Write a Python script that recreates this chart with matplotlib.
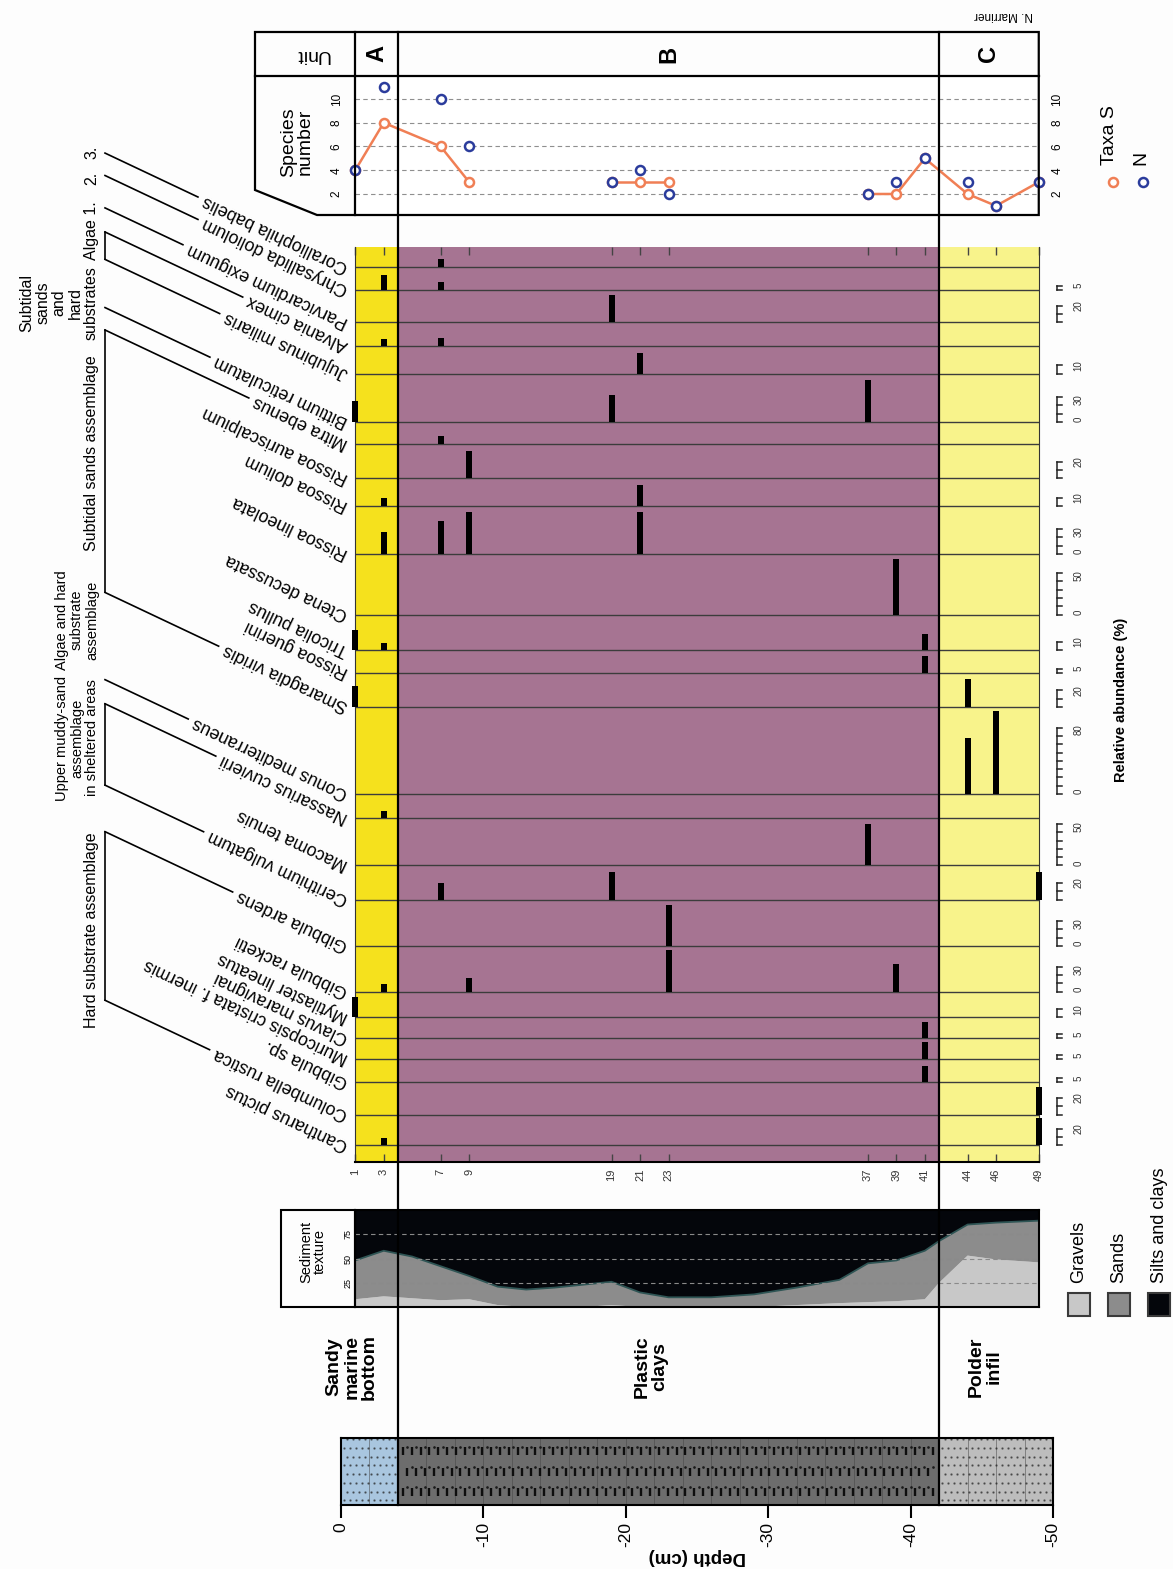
import numpy as np
import matplotlib
matplotlib.use("Agg")
import matplotlib.pyplot as plt
from matplotlib.font_manager import FontProperties
from matplotlib.transforms import blended_transform_factory
from matplotlib.patches import Rectangle, Polygon

plt.rcParams['font.family'] = ['Liberation Sans', 'DejaVu Sans']

W, H, DPI = 1173, 1569, 100
# page position of the depth scale: 0 cm -> x=341 px, -50 cm -> x=1053 px
X0, X50 = 341, 1053

# ---------------- data ----------------
unit_labels = ['A', 'B', 'C']
unit_top = [0, 4, 42]
unit_base = [4, 42, 50]
unit_facies = ['Sandy\nmarine\nbottom', 'Plastic\nclays', 'Polder\ninfil']
unit_fill = ['#f5e11d', '#a67492', '#f8f38b']
litho_fill = ['#a9c6df', '#6d6d6d', '#bdbdbd']

depth_ticks = [0, -10, -20, -30, -40, -50]

samples = [1, 3, 7, 9, 19, 21, 23, 37, 39, 41, 44, 46, 49]
taxa_s = [4, 8, 6, 3, 3, 3, 3, 2, 2, 5, 2, 1, 3]
n_ind = [4, 11, 10, 6, 3, 4, 2, 2, 3, 5, 3, 1, 3]
taxa_breaks = [4, 7]          # orange line is interrupted after these indices

tex_depth = [1, 3, 5, 7, 9, 11, 13, 15, 17, 19, 21, 23, 26, 29, 32, 35, 37, 39, 41, 42, 44, 46, 49]
gravels = [8, 11, 9, 7, 8, 2, 0, 0, 0, 2, 0, 0, 0, 0, 2, 4, 5, 6, 8, 25, 53, 49, 46]
sands = [40, 47, 43, 35, 24, 19, 18, 20, 23, 24, 15, 10, 10, 13, 18, 24, 40, 42, 50, 43, 32, 38, 43]
silts = [52, 42, 48, 58, 68, 79, 82, 80, 77, 74, 85, 90, 90, 87, 80, 72, 55, 52, 42, 32, 15, 13, 11]

species = ['Coralliophila babelis', 'Chrysallida doliolum', 'Parvicardium exiguum',
           'Alvania cimex', 'Jujubinus miliaris', 'Bittium reticulatum', 'Mitra ebenus',
           'Rissoa auriscalpium', 'Rissoa dolium', 'Rissoa lineolata', 'Ctena decussata',
           'Tricolia pullus', 'Rissoa guerini', 'Smaragdia viridis', 'Conus mediterraneus',
           'Nassarius cuvierii', 'Macoma tenuis', 'Cerithium vulgatum', 'Gibbula ardens',
           'Gibbula racketii', 'Mytilaster lineatus', 'Clavus maravignai',
           'Muricopsis cristata f. inermis', 'Gibbula sp.', 'Columbella rustica',
           'Cantharus pictus']
# width of each species column (in % units)
row_width = [25, 27, 39, 29, 33, 58, 27, 41, 33, 58, 73, 43, 27, 41, 105, 29, 57, 41,
             56, 55, 31, 25, 25, 28, 39, 37]
bottom_pad = 20
# scale bar shown for each species (0 = none)
scale_max = [0, 5, 20, 0, 10, 30, 0, 20, 10, 30, 50, 10, 5, 20, 80, 0, 50, 20, 30, 30,
             10, 5, 5, 5, 20, 20]
# relative abundance (%) per species, columns = samples
abundance = [
    [0, 0, 10, 0, 0, 0, 0, 0, 0, 0, 0, 0, 0],
    [0, 18, 10, 0, 0, 0, 0, 0, 0, 0, 0, 0, 0],
    [0, 0, 0, 0, 33, 0, 0, 0, 0, 0, 0, 0, 0],
    [0, 9, 10, 0, 0, 0, 0, 0, 0, 0, 0, 0, 0],
    [0, 0, 0, 0, 0, 25, 0, 0, 0, 0, 0, 0, 0],
    [25, 0, 0, 0, 33, 0, 0, 50, 0, 0, 0, 0, 0],
    [0, 0, 10, 0, 0, 0, 0, 0, 0, 0, 0, 0, 0],
    [0, 0, 0, 33, 0, 0, 0, 0, 0, 0, 0, 0, 0],
    [0, 9, 0, 0, 0, 25, 0, 0, 0, 0, 0, 0, 0],
    [0, 27, 40, 50, 0, 50, 0, 0, 0, 0, 0, 0, 0],
    [0, 0, 0, 0, 0, 0, 0, 0, 67, 0, 0, 0, 0],
    [25, 9, 0, 0, 0, 0, 0, 0, 0, 20, 0, 0, 0],
    [0, 0, 0, 0, 0, 0, 0, 0, 0, 20, 0, 0, 0],
    [25, 0, 0, 0, 0, 0, 0, 0, 0, 0, 33, 0, 0],
    [0, 0, 0, 0, 0, 0, 0, 0, 0, 0, 67, 100, 0],
    [0, 9, 0, 0, 0, 0, 0, 0, 0, 0, 0, 0, 0],
    [0, 0, 0, 0, 0, 0, 0, 50, 0, 0, 0, 0, 0],
    [0, 0, 20, 0, 33, 0, 0, 0, 0, 0, 0, 0, 33],
    [0, 0, 0, 0, 0, 0, 50, 0, 0, 0, 0, 0, 0],
    [0, 9, 0, 17, 0, 0, 50, 0, 33, 0, 0, 0, 0],
    [25, 0, 0, 0, 0, 0, 0, 0, 0, 0, 0, 0, 0],
    [0, 0, 0, 0, 0, 0, 0, 0, 0, 20, 0, 0, 0],
    [0, 0, 0, 0, 0, 0, 0, 0, 0, 20, 0, 0, 0],
    [0, 0, 0, 0, 0, 0, 0, 0, 0, 20, 0, 0, 0],
    [0, 0, 0, 0, 0, 0, 0, 0, 0, 0, 0, 0, 33],
    [0, 9, 0, 0, 0, 0, 0, 0, 0, 0, 0, 0, 33],
]

# assemblage groups: first / last species index joined by a bracket
group_first = [0, 1, 2, 3, 5, 6, 14, 15, 18]
group_last = [0, 1, 2, 4, 5, 13, 14, 17, 24]
group_text = ['3.', '2.', 'Algae 1.', 'Subtidal\nsands\nand\nhard\nsubstrates',
              'Subtidal sands assemblage', 'Algae and hard\nsubstrate\nassemblage',
              'Upper muddy-sand\nassemblage\nin sheltered areas', 'Hard substrate assemblage']
group_text_y = [152, 178, 231, 303, 453, 620, 738, 930]
group_text_size = [11.5, 11.5, 11.5, 11.5, 11.5, 10.5, 10.5, 11.5]

ORANGE = '#f07f55'
BLUE = '#2b3c9c'


def depth_px(d):
    return X0 + (X50 - X0) * d / 50.0


fig = plt.figure(figsize=(W / DPI, H / DPI), dpi=DPI, facecolor='#fdfdfd')


def px_axes(x0, y0, x1, y1):
    return fig.add_axes([x0 / W, 1 - y1 / H, (x1 - x0) / W, (y1 - y0) / H])


# ---------------- lithology ----------------
LITH_TOP, LITH_BOT = 1438, 1505
ax_l = px_axes(X0, LITH_TOP, X50, LITH_BOT)
ax_l.set_xlim(0, -50)
ax_l.set_ylim(0, 1)
for top, base, c in zip(unit_top, unit_base, litho_fill):
    ax_l.axvspan(-top, -base, color=c, lw=0)
ax_l.vlines(-np.arange(2, 50, 2), 0, 1, color='#444444', lw=0.5, alpha=0.7)
for top, base in [(unit_top[0], unit_base[0]), (unit_top[2], unit_base[2])]:
    gx, gy = np.meshgrid(np.arange(top + 0.2, base - 0.1, 0.42), np.arange(0.07, 1, 0.13))
    gx = gx + (np.arange(gy.shape[0])[:, None] % 2) * 0.2
    ax_l.plot(-gx.ravel(), gy.ravel(), ls='none', marker='.', ms=1.4, color='#222', alpha=0.6)
cx = np.arange(4.35, 41.6, 0.62)
for j, yy in enumerate([0.2, 0.5, 0.8]):
    xs = cx + 0.31 * (j % 2)
    xs = xs[xs < 41.7]
    ax_l.plot(-xs, np.full(xs.shape, yy), ls='none', marker='|', ms=5.5, mew=1.7, color='#0d0d0d')
    xd = xs[xs < 41.4] + 0.31
    ax_l.plot(-xd, np.full(xd.shape, yy + 0.07), ls='none', marker='.', ms=1.8, color='#1a1a1a')
ax_l.set_xticks(depth_ticks)
ax_l.set_xticklabels([str(t) for t in depth_ticks], rotation=90, fontsize=12.5)
ax_l.tick_params(axis='x', length=9, width=1.5)
ax_l.set_yticks([])
for s in ax_l.spines.values():
    s.set_linewidth(1.5)

# ---------------- sediment texture ----------------
TEX_TOP, TEX_BOT = 1210, 1307
ax_t = px_axes(depth_px(1), TEX_TOP, depth_px(49), TEX_BOT)
ax_t.stackplot(tex_depth, gravels, sands, silts, colors=['#c8c8c8', '#8c8c8c', '#04060b'], lw=0)
cum = [g + s for g, s in zip(gravels, sands)]
ax_t.plot(tex_depth, cum, color='#2f5555', lw=1.3)
for v in (25, 50, 75):
    ax_t.axhline(v, color='#8a8a8a', lw=0.8, ls=(0, (4, 3)))
ax_t.set_xlim(1, 49)
ax_t.set_ylim(0, 100)
ax_t.set_xticks([])
ax_t.set_yticks([25, 50, 75])
ax_t.set_yticklabels(['25', '50', '75'], rotation=90, va='center', fontsize=6.5)
ax_t.tick_params(axis='y', length=0, pad=2)
for s in ax_t.spines.values():
    s.set_linewidth(1.5)

# ---------------- relative abundance ----------------
total = sum(row_width) + bottom_pad
ax_a = px_axes(depth_px(1), 246.7, depth_px(49), 1162)
ax_a.set_xlim(1, 49)
ax_a.set_ylim(total, 0)
for top, base, c in zip(unit_top, unit_base, unit_fill):
    ax_a.axvspan(top, base, color=c, lw=0)
bases = np.cumsum(row_width)
ax_a.hlines(bases, 1, 49, color='#3c3c3c', lw=1)
for b, vals in zip(bases, abundance):
    v = np.array(vals, dtype=float)
    keep = v > 0
    ax_a.bar(np.array(samples)[keep], v[keep], bottom=b - v[keep], width=0.42,
             color='black', clip_on=False, zorder=3)
# little scale bars on the right of each column
for b, m in zip(bases, scale_max):
    if m == 0:
        continue
    steps = [0, 5] if m == 5 else list(range(0, m + 1, 10))
    ax_a.plot([50.28, 50.28], [b, b - m], color='#222', lw=1.1, clip_on=False)
    for s in steps:
        ax_a.plot([50.28, 50.65], [b - s, b - s], color='#222', lw=1.1, clip_on=False)
    if m <= 20:
        ax_a.text(51.8, b - m, str(m), rotation=90, ha='center', va='center',
                  fontsize=7, color='#333')
    else:
        ax_a.text(51.8, b - 3, '0', rotation=90, ha='center', va='center', fontsize=7, color='#333')
        ax_a.text(51.8, b - m + 3, str(m), rotation=90, ha='center', va='center',
                  fontsize=7, color='#333')
ax_a.set_xticks(samples)
ax_a.set_xticklabels([str(s) for s in samples], rotation=90, fontsize=8, color='#333')
ax_a.tick_params(axis='x', direction='in', length=6, width=1, top=True, color='#444', pad=5)
ax_a.set_yticks([])
ax_a.spines['top'].set_visible(False)
ax_a.spines['bottom'].set_linewidth(1.5)
for k in ('left', 'right'):
    ax_a.spines[k].set_linewidth(0.8)
    ax_a.spines[k].set_color('#333')

# ---------------- species number ----------------
ax_s = px_axes(depth_px(1), 75.7, depth_px(49), 215)
ax_s.set_xlim(1, 49)
ax_s.set_ylim(0.23, 11.96)
for v in (2, 4, 6, 8, 10):
    ax_s.axhline(v, color='#8f8f8f', lw=0.8, ls=(0, (4, 3)))
cuts = [0] + taxa_breaks + [len(samples)]
for a, b in zip(cuts[:-1], cuts[1:]):
    ax_s.plot(samples[a:b], taxa_s[a:b], color=ORANGE, lw=1.8, zorder=3)
ax_s.plot(samples, taxa_s, ls='none', marker='o', ms=6.5, mew=1.8, mfc='white',
          mec=ORANGE, clip_on=False, zorder=4)
ax_s.plot(samples, n_ind, ls='none', marker='o', ms=6.5, mew=1.8, mfc='white',
          mec=BLUE, clip_on=False, zorder=5)
ax_s.set_xticks([])
ax_s.set_yticks([2, 4, 6, 8, 10])
ax_s.set_yticklabels(['2', '4', '6', '8', '10'], rotation=90, va='center', fontsize=8.5)
ax_s.tick_params(axis='y', length=0, pad=9, labelleft=True, labelright=True)
for s in ax_s.spines.values():
    s.set_visible(False)

# ---------------- overlay (frames, labels, annotations) ----------------
ov = fig.add_axes([0, 0, 1, 1])
ov.set_xlim(0, W)
ov.set_ylim(H, 0)
ov.axis('off')
ov.set_zorder(10)

xl, xr = depth_px(1), depth_px(49)
ov.add_patch(Polygon([(255, 32), (xr, 32), (xr, 215), (317, 215), (255, 190)],
                     closed=True, fill=False, lw=1.6, ec='black'))
ov.plot([255, xr], [75.7, 75.7], color='black', lw=1.6)
ov.plot([xl, xl], [32, 215], color='black', lw=1.6)
ov.text(312, 54, 'Unit', rotation=180, ha='center', va='center', fontsize=14)
ov.text(297, 142, 'Species\nnumber', rotation=90, ha='center', va='center', fontsize=14,
        linespacing=1.0)
tr_s = blended_transform_factory(ax_s.transData, ov.transData)
unit_mid = [(max(t, 1) + min(b, 49)) / 2 for t, b in zip(unit_top, unit_base)]
for m, lab in zip(unit_mid, unit_labels):
    ov.text(m, 54, lab, transform=tr_s, rotation=90, ha='center', va='center',
            fontsize=17, fontweight='bold')
ov.text(1004, 15, 'N. Marriner', rotation=180, ha='center', va='center', fontsize=8.5)

# species-number legend
ov.plot([1113], [182], ls='none', marker='o', ms=6.5, mew=1.8, mfc='white', mec=ORANGE)
ov.plot([1143], [182], ls='none', marker='o', ms=6.5, mew=1.8, mfc='white', mec=BLUE)
ov.text(1110, 165, 'Taxa S', rotation=90, rotation_mode='anchor', ha='left', va='center',
        fontsize=14)
ov.text(1141, 165, 'N', rotation=90, rotation_mode='anchor', ha='left', va='center',
        fontsize=14)

# texture label box and legend
ov.add_patch(Rectangle((281, TEX_TOP), xl - 281, TEX_BOT - TEX_TOP, fill=False, lw=1.5,
                       ec='black'))
ov.text(313, TEX_TOP + 42, 'Sediment\ntexture', rotation=90, ha='center', va='center',
        fontsize=10.5, linespacing=1.0)
for x0, c, lab in zip([1068, 1108, 1148], ['#c8c8c8', '#8c8c8c', '#04060b'],
                      ['Gravels', 'Sands', 'Silts and clays']):
    ov.add_patch(Rectangle((x0, 1293), 22, 23, fc=c, ec='#3a3a3a', lw=1.5))
    ov.text(x0 + 11, 1283, lab, rotation=90, rotation_mode='anchor', ha='left',
            va='center', fontsize=13)

# facies names, depth title, abundance title
for x, lab in zip([352, 651, 985], unit_facies):
    ov.text(x, 1367, lab, rotation=90, ha='center', va='center', fontsize=14,
            fontweight='bold', linespacing=1.05)
ov.text(697, 1557, 'Depth (cm)', rotation=180, ha='center', va='center', fontsize=13.5,
        fontweight='bold')
ov.text(1121, 700, 'Relative abundance (%)', rotation=90, ha='center', va='center',
        fontsize=10.5, fontweight='bold')

# unit boundaries running through the whole log
tr_l = blended_transform_factory(ax_l.transData, ov.transData)
for b in unit_base[:-1]:
    ov.plot([-b, -b], [32, LITH_BOT], transform=tr_l, color='black', lw=1.6, clip_on=False)

# species names and assemblage brackets
fig.canvas.draw()
renderer = fig.canvas.get_renderer()
ang = np.deg2rad(25.3)
name_fp = FontProperties(family=['Liberation Sans', 'DejaVu Sans'], size=12.8)
to_ov = ov.transData.inverted()
NAME_X, BR_X = 347, 105
base_y = [to_ov.transform(ax_a.transData.transform((1, b)))[1] for b in bases]
ends = []
for name, yb in zip(species, base_y):
    ov.text(NAME_X, yb, name, rotation=180 - 25.3, rotation_mode='anchor', ha='left',
            va='center', fontproperties=name_fp)
    w = renderer.get_text_width_height_descent(name, name_fp, ismath=False)[0]
    ends.append((NAME_X - (w + 6) * np.cos(ang), yb - (w + 6) * np.sin(ang)))


def bracket_y(i):
    return base_y[i] - (NAME_X - BR_X) * np.tan(ang)


for g0, g1 in zip(group_first, group_last):
    for i in sorted({g0, g1}):
        ex, ey = ends[i]
        ov.plot([ex, BR_X], [ey, bracket_y(i)], color='black', lw=1.2)
    if g1 != g0:
        ov.plot([BR_X, BR_X], [bracket_y(g0), bracket_y(g1)], color='black', lw=1.2)

for txt, yc, fs in zip(group_text, group_text_y, group_text_size):
    ov.text(99, yc, txt, rotation=90, rotation_mode='anchor', ha='center', va='bottom',
            fontsize=fs, linespacing=1.1, multialignment='center')

fig.savefig('out.png', dpi=DPI, facecolor=fig.get_facecolor())
